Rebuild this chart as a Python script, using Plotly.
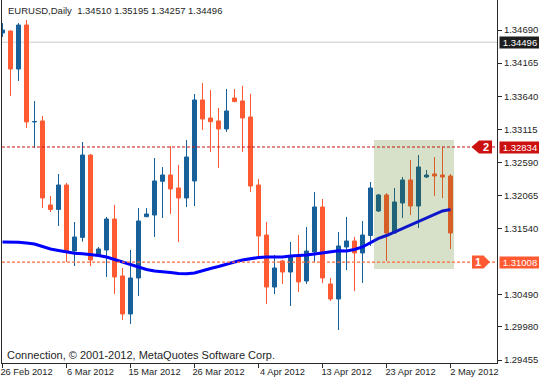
import plotly.graph_objects as go

# ---------------- data ----------------
bar_index = list(range(57))
open_ = [1.34643, 1.34674, 1.34071, 1.34769, 1.33231, 1.33247, 1.31914, 1.31843, 1.32231, 1.31184,
         1.31400, 1.32707, 1.31121, 1.31200, 1.31692, 1.30788, 1.30185, 1.30756, 1.31728, 1.31755,
         1.32290, 1.32390, 1.32184, 1.32025, 1.32295, 1.33580, 1.33294, 1.33247, 1.33120, 1.33611,
         1.33564, 1.33310, 1.32231, 1.31438, 1.30613, 1.31026, 1.30851, 1.31105, 1.30708, 1.31169,
         1.31882, 1.30661, 1.30423, 1.31248, 1.31343, 1.31153, 1.31430, 1.31819, 1.32073, 1.31470,
         1.31946, 1.32311, 1.31898, 1.32358, 1.32406, 1.32390, 1.32374]
high = [1.34801, 1.34680, 1.34801, 1.34849, 1.33564, 1.33326, 1.32057, 1.32406, 1.32263, 1.31644,
        1.32913, 1.32723, 1.31248, 1.31724, 1.31914, 1.30915, 1.31200, 1.31866, 1.31866, 1.32660,
        1.32517, 1.32850, 1.32549, 1.32945, 1.33675, 1.33849, 1.33738, 1.33453, 1.33754, 1.33754,
        1.33802, 1.33675, 1.32327, 1.31644, 1.31121, 1.31042, 1.31327, 1.31438, 1.31565, 1.32120,
        1.32009, 1.30756, 1.31486, 1.31724, 1.31406, 1.31660, 1.32279, 1.32089, 1.32104, 1.32184,
        1.32358, 1.32628, 1.32707, 1.32469, 1.32675, 1.32834, 1.32406]
low = [1.34579, 1.33643, 1.33881, 1.33136, 1.32818, 1.31866, 1.31803, 1.31581, 1.31010, 1.30946,
       1.31332, 1.30946, 1.31121, 1.30772, 1.30502, 1.30090, 1.30026, 1.30471, 1.31724, 1.31406,
       1.31708, 1.31771, 1.31327, 1.31882, 1.31898, 1.33104, 1.32755, 1.32501, 1.33072, 1.33548,
       1.32755, 1.32120, 1.31089, 1.30344, 1.30502, 1.30661, 1.30312, 1.30534, 1.30661, 1.31010,
       1.30677, 1.30391, 1.29931, 1.30883, 1.30550, 1.30677, 1.31264, 1.31803, 1.31026, 1.31470,
       1.31708, 1.31755, 1.31549, 1.32342, 1.32057, 1.32025, 1.31216]
close = [1.34690, 1.34071, 1.34769, 1.33231, 1.33239, 1.32025, 1.31843, 1.32231, 1.31184, 1.31406,
         1.32707, 1.31042, 1.31216, 1.31692, 1.30772, 1.30185, 1.30756, 1.31660, 1.31771, 1.32295,
         1.32390, 1.32168, 1.32025, 1.32675, 1.33580, 1.33278, 1.33235, 1.33120, 1.33405, 1.33553,
         1.33294, 1.32215, 1.31422, 1.30613, 1.30915, 1.30851, 1.31089, 1.30693, 1.31184, 1.31882,
         1.30756, 1.30423, 1.31264, 1.31343, 1.31153, 1.31438, 1.32184, 1.32073, 1.31470, 1.31962,
         1.32311, 1.31898, 1.32517, 1.32390, 1.32374, 1.32358, 1.31470]
ma = [1.31327, 1.31327, 1.31324, 1.31311, 1.31295, 1.31255, 1.31216, 1.31192, 1.31169, 1.31148,
      1.31142, 1.31129, 1.31113, 1.31089, 1.31050, 1.31002, 1.30962, 1.30922, 1.30891, 1.30867,
      1.30859, 1.30843, 1.30827, 1.30824, 1.30835, 1.30875, 1.30907, 1.30938, 1.30978, 1.31010,
      1.31042, 1.31065, 1.31081, 1.31089, 1.31089, 1.31089, 1.31105, 1.31110, 1.31121, 1.31137,
      1.31157, 1.31173, 1.31189, 1.31184, 1.31208, 1.31248, 1.31311, 1.31383, 1.31430, 1.31486,
      1.31549, 1.31597, 1.31652, 1.31716, 1.31771, 1.31819, 1.31843]

tick_bars = [0, 8, 16, 24, 32, 40, 48, 56]
tick_labels = ["26 Feb 2012", "6 Mar 2012", "15 Mar 2012", "26 Mar 2012",
               "4 Apr 2012", "13 Apr 2012", "23 Apr 2012", "2 May 2012"]
price_ticks = [1.34690, 1.34165, 1.33640, 1.33115, 1.32590, 1.32065,
               1.31540, 1.30490, 1.29980, 1.29455]
bid_price = 1.34496
level_2 = 1.32834
level_1 = 1.31008
rect_bars = [46.44, 56.44]
rect_prices = [1.30899, 1.32945]
header = "EURUSD,Daily  1.34510 1.35195 1.34257 1.34496"
copyright_text = "Connection, \u00a9 2001-2012, MetaQuotes Software Corp."

# ---------------- styles ----------------
BULL = "#17609a"
BEAR = "#ff5a32"
FONT = "Liberation Sans, Arial, sans-serif"
FS = 9.5
FS_X = 9.3
TXT = "#1e1e1e"
AX = "#2a2a2a"

fig = go.Figure()

# wicks
for color, cond in ((BULL, lambda o, c: c >= o), (BEAR, lambda o, c: c < o)):
    wx, wy = [], []
    for i, o, h, l, c in zip(bar_index, open_, high, low, close):
        if cond(o, c):
            wx += [i, i, None]
            wy += [l, h, None]
    fig.add_trace(go.Scatter(x=wx, y=wy, mode="lines", line=dict(color=color, width=1),
                             hoverinfo="skip", showlegend=False))

# bodies
for color, cond in ((BULL, lambda o, c: c >= o), (BEAR, lambda o, c: c < o)):
    bx, bbase, bh = [], [], []
    for i, o, c in zip(bar_index, open_, close):
        if cond(o, c):
            bx.append(i)
            bbase.append(min(o, c))
            bh.append(abs(c - o))
    fig.add_trace(go.Bar(x=bx, y=bh, base=bbase, width=0.5,
                         marker=dict(color=color, line=dict(color=color, width=1)),
                         hoverinfo="skip", showlegend=False))

# moving average
fig.add_trace(go.Scatter(x=bar_index, y=ma, mode="lines",
                         line=dict(color="#0000ff", width=3),
                         hoverinfo="skip", showlegend=False))

shapes = []
# bid line
shapes.append(dict(type="line", xref="paper", x0=0, x1=1, yref="y", y0=bid_price, y1=bid_price,
                   line=dict(color="#dcdcdc", width=1.5), layer="below"))
# rectangle (semi-transparent overlay)
shapes.append(dict(type="rect", xref="x", x0=rect_bars[0], x1=rect_bars[1],
                   yref="y", y0=rect_prices[0], y1=rect_prices[1],
                   fillcolor="rgba(64,111,0,0.21)", line=dict(width=0), layer="above"))
# horizontal levels
shapes.append(dict(type="line", xref="paper", x0=0, x1=1, yref="y", y0=level_2, y1=level_2,
                   line=dict(color="#c81414", width=1.2, dash="3px,2px"), layer="above"))
shapes.append(dict(type="line", xref="paper", x0=0, x1=1, yref="y", y0=level_1, y1=level_1,
                   line=dict(color="#ff6a3d", width=1.2, dash="3px,2px"), layer="above"))
# level markers (pentagons), pixel-sized relative to the right edge and level price
shapes.append(dict(type="path", xref="paper", xsizemode="pixel", xanchor=1,
                   yref="y", ysizemode="pixel", yanchor=level_2,
                   path="M -25.5,0 L -18,6.5 L -5,6.5 L -5,-6.5 L -18,-6.5 Z",
                   fillcolor="#cc1111", line=dict(width=0), layer="above"))
shapes.append(dict(type="path", xref="paper", xsizemode="pixel", xanchor=1,
                   yref="y", ysizemode="pixel", yanchor=level_1,
                   path="M -25,6.5 L -13.5,6.5 L -7,0 L -13.5,-6.5 L -25,-6.5 Z",
                   fillcolor="#ff5a32", line=dict(width=0), layer="above"))

annotations = [
    dict(xref="paper", yref="paper", x=0, y=1, xanchor="left", yanchor="top", xshift=4, yshift=-3,
         text=header, showarrow=False, font=dict(family=FONT, size=FS, color=TXT)),
    dict(xref="paper", yref="paper", x=0, y=0, xanchor="left", yanchor="bottom", xshift=3, yshift=0,
         text=copyright_text, showarrow=False, font=dict(family=FONT, size=11, color=TXT)),
    dict(xref="paper", yref="y", x=1, y=bid_price, xanchor="left", yanchor="middle", xshift=2,
         text=f"{bid_price:.5f}", showarrow=False, bgcolor="#1e1e1e", width=40, height=11,
         borderpad=0, font=dict(family=FONT, size=FS, color="#ffffff")),
    dict(xref="paper", yref="y", x=1, y=level_2, xanchor="left", yanchor="middle", xshift=2,
         text=f"{level_2:.5f}", showarrow=False, bgcolor="#cc1111", width=40, height=11,
         borderpad=0, font=dict(family=FONT, size=FS, color="#ffffff")),
    dict(xref="paper", yref="y", x=1, y=level_1, xanchor="left", yanchor="middle", xshift=2,
         text=f"{level_1:.5f}", showarrow=False, bgcolor="#ff5a32", width=40, height=11,
         borderpad=0, font=dict(family=FONT, size=FS, color="#ffffff")),
    dict(xref="paper", yref="y", x=1, y=level_2, xanchor="center", yanchor="middle", xshift=-11,
         text="<b>2</b>", showarrow=False, font=dict(family=FONT, size=11, color="#ffffff")),
    dict(xref="paper", yref="y", x=1, y=level_1, xanchor="center", yanchor="middle", xshift=-19,
         text="<b>1</b>", showarrow=False, font=dict(family=FONT, size=11, color="#ffffff")),
]

fig.update_layout(
    width=539, height=381,
    margin=dict(l=2, r=42, t=0, b=18),
    paper_bgcolor="#ffffff", plot_bgcolor="#ffffff",
    barmode="overlay", bargap=0,
    showlegend=False,
    shapes=shapes, annotations=annotations,
    font=dict(family=FONT, size=FS, color=TXT),
)
fig.update_xaxes(range=[-0.0625, 61.8125], tickvals=tick_bars, ticktext=tick_labels,
                 showgrid=False, zeroline=False, showline=True, linecolor=AX, linewidth=1,
                 ticks="outside", ticklen=4, tickcolor=AX, ticklabelshift=24,
                 ticklabelstandoff=-4, ticklabeloverflow="allow",
                 tickfont=dict(family=FONT, size=FS_X, color=TXT), fixedrange=True)
fig.update_yaxes(range=[1.294074, 1.351659], side="right", tickvals=price_ticks,
                 tickformat=".5f", showgrid=False, zeroline=False, showline=True, mirror=True,
                 linecolor=AX, linewidth=1, ticks="outside", ticklen=4, tickcolor=AX,
                 tickfont=dict(family=FONT, size=FS, color=TXT), fixedrange=True)

fig.write_html("out.html", config={"staticPlot": True},
               post_script="document.body.style.margin='0px';document.body.style.overflow='hidden';")
